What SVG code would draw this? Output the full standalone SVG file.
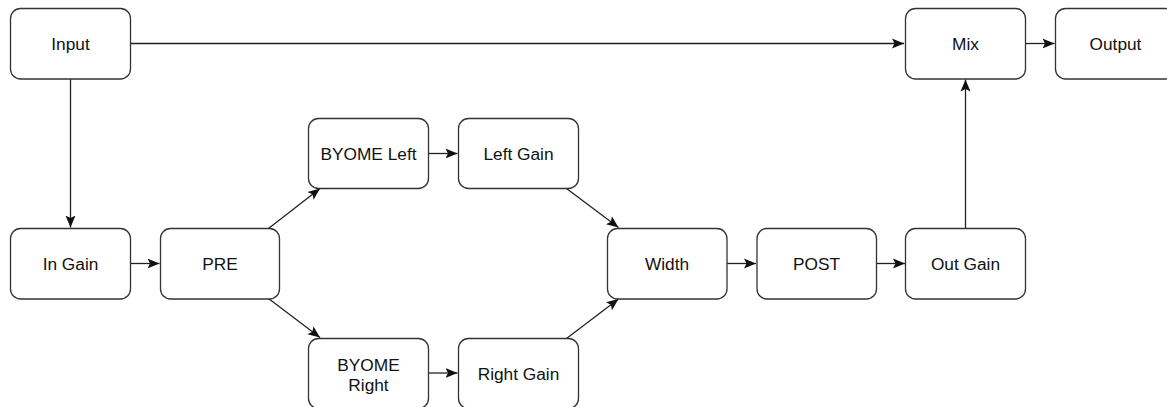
<svg xmlns="http://www.w3.org/2000/svg" width="1167" height="407" viewBox="0 0 1167 407">
<style>
.box{fill:#fff;stroke:#333;stroke-width:1.3}
.lbl{font-family:"Liberation Sans",Arial,sans-serif;font-size:17.3px;fill:#111;text-anchor:middle}
.edge{fill:none;stroke:#222;stroke-width:1.3}
</style>
<defs>
<marker id="arr" markerUnits="userSpaceOnUse" markerWidth="14" markerHeight="12" viewBox="0 0 14 12" refX="12" refY="6" orient="auto">
<path d="M0,1 L12,6 L0,11 L2.5,6 z" fill="#111"/>
</marker>
</defs>
<rect width="1167" height="407" fill="#fff"/>
<g id="connectors">
<path class="edge" d="M130.5,43.5 H904" marker-end="url(#arr)"/>
<path class="edge" d="M70.5,79 V227.5" marker-end="url(#arr)"/>
<path class="edge" d="M1025.5,43.5 H1054.5" marker-end="url(#arr)"/>
<path class="edge" d="M130.5,263.5 H159.5" marker-end="url(#arr)"/>
<path class="edge" d="M268.5,228.5 L320,188.5" marker-end="url(#arr)"/>
<path class="edge" d="M268.5,298.5 L320,337.5" marker-end="url(#arr)"/>
<path class="edge" d="M428.5,153.5 H457.5" marker-end="url(#arr)"/>
<path class="edge" d="M428.5,373 H457.5" marker-end="url(#arr)"/>
<path class="edge" d="M566.5,188.5 L618.5,227.5" marker-end="url(#arr)"/>
<path class="edge" d="M566.5,338.5 L618.5,299" marker-end="url(#arr)"/>
<path class="edge" d="M727,263.5 H756" marker-end="url(#arr)"/>
<path class="edge" d="M876.5,263.5 H905" marker-end="url(#arr)"/>
<path class="edge" d="M965.5,228.5 V79.5" marker-end="url(#arr)"/>
</g>
<g id="input"><rect class="box" x="10.5" y="8.5" width="120" height="70.5" rx="10"/><text class="lbl" x="70.5" y="50">Input</text></g>
<g id="mix"><rect class="box" x="905.5" y="8.5" width="120" height="70.5" rx="10"/><text class="lbl" x="965.5" y="50">Mix</text></g>
<g id="output"><rect class="box" x="1055.5" y="8.5" width="120" height="70.5" rx="10"/><text class="lbl" x="1115.5" y="50">Output</text></g>
<g id="in-gain"><rect class="box" x="10.5" y="228.5" width="120" height="70.5" rx="10"/><text class="lbl" x="70.5" y="270">In Gain</text></g>
<g id="pre"><rect class="box" x="160.5" y="228.5" width="119" height="70.5" rx="10"/><text class="lbl" x="220" y="270">PRE</text></g>
<g id="byome-left"><rect class="box" x="308.5" y="118.5" width="120" height="70" rx="10"/><text class="lbl" x="368.5" y="160">BYOME Left</text></g>
<g id="left-gain"><rect class="box" x="458.5" y="118.5" width="120" height="70" rx="10"/><text class="lbl" x="518.5" y="160">Left Gain</text></g>
<g id="byome-right"><rect class="box" x="308.5" y="338.5" width="120" height="70" rx="10"/><text class="lbl" x="368.5" y="371">BYOME</text><text class="lbl" x="368.5" y="391">Right</text></g>
<g id="right-gain"><rect class="box" x="458.5" y="338.5" width="120" height="70" rx="10"/><text class="lbl" x="518.5" y="379.5">Right Gain</text></g>
<g id="width"><rect class="box" x="607.5" y="228.5" width="119.5" height="70.5" rx="10"/><text class="lbl" x="667" y="270">Width</text></g>
<g id="post"><rect class="box" x="757" y="228.5" width="119.5" height="70.5" rx="10"/><text class="lbl" x="816.5" y="270">POST</text></g>
<g id="out-gain"><rect class="box" x="905.5" y="228.5" width="120" height="70.5" rx="10"/><text class="lbl" x="965.5" y="270">Out Gain</text></g>
</svg>
